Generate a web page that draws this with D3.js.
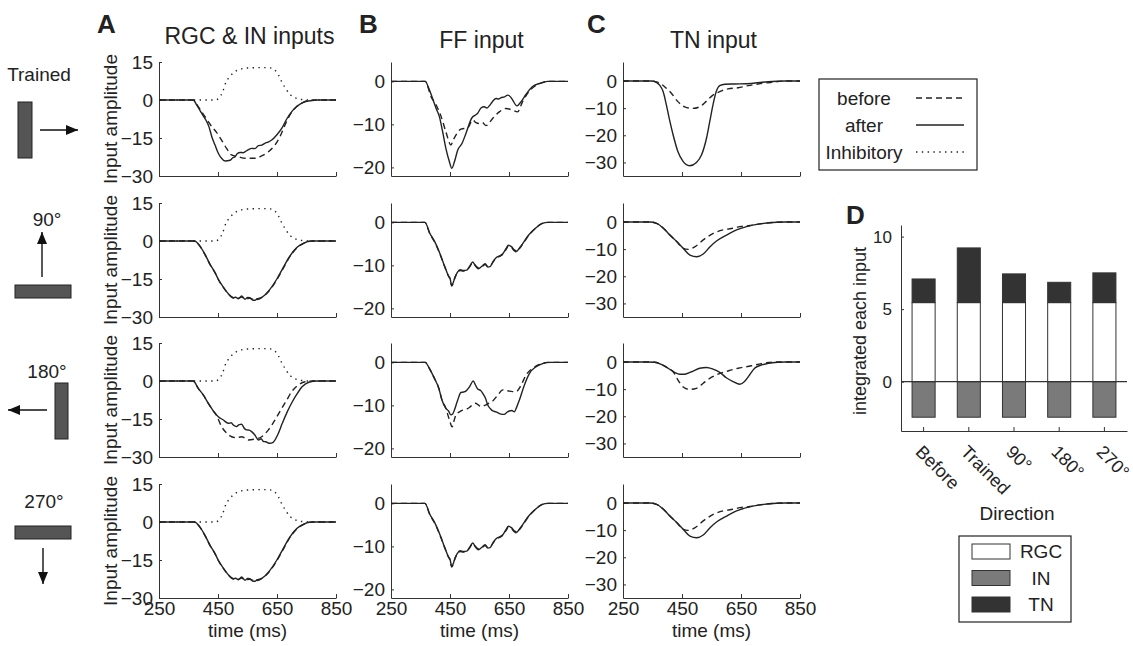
<!DOCTYPE html>
<html>
<head>
<meta charset="utf-8">
<script src="https://cdn.jsdelivr.net/npm/d3@7"></script>
<style>
  body { margin: 0; background: #fff; }
  svg text { font-family: "Liberation Sans", Arial, sans-serif; fill: #222; }
</style>
</head>
<body>
<svg id="fig" width="1133" height="646"></svg>
<script>
// ---- data ([time ms, amplitude]) ----
const timeTicks = [250, 450, 650, 850];

// inhibitory input (same in every direction)
const inhibitory = [[250,0],[440,0],[455,1],[465,3],[477,7],[490,9.2],[500,10.5],[513,11.6],[530,12.3],[545,12.6],[600,12.8],[626,12.7],[643,11.8],[655,9.9],[666,7.2],[679,4.6],[694,2.2],[711,0.9],[734,0.2],[760,0],[850,0]];

// RGC & IN inputs
const rgcTrainedBefore = [[250,0],[366,0],[383,-2.6],[406,-6.6],[429,-10.5],[445,-12.8],[462,-15.8],[479,-19.1],[496,-21.7],[519,-22.4],[542,-23],[575,-23],[598,-22.1],[621,-20.4],[643,-17.8],[660,-14.5],[677,-9.9],[694,-5.9],[717,-2.6],[739,-0.9],[762,-0.2],[784,0],[850,0]];
const rgcTrainedAfter = [[250,0],[366,0],[378,-2],[395,-5.3],[412,-8.6],[420,-10.8],[429,-14.5],[440,-17.8],[451,-21],[462,-23],[474,-24.1],[491,-23.8],[500,-22.8],[508,-22.4],[515,-21.2],[525,-20.7],[535,-20.8],[542,-20.4],[553,-19.6],[564,-19.1],[575,-19.2],[587,-18],[598,-17.8],[609,-17.1],[620,-16.6],[632,-15.8],[649,-13.8],[666,-11.2],[683,-7.5],[700,-4.6],[717,-2.6],[739,-0.9],[762,-0.3],[784,0],[850,0]];
const rgc90Before = [[250,0],[370,0],[389,-2.1],[406,-5.4],[423,-9.3],[440,-12.6],[451,-15.2],[468,-18.3],[485,-20.9],[502,-22.5],[519,-22.6],[530,-22.1],[542,-22.9],[558,-22.6],[575,-23.2],[592,-22.7],[609,-21.4],[626,-19.3],[649,-15.4],[671,-10.8],[694,-6.1],[717,-2.8],[739,-1],[768,0],[850,0]];
const rgc90After = [[250,0],[370,0],[389,-2],[406,-5.3],[423,-9.2],[440,-12.5],[451,-15.1],[468,-18.2],[485,-20.8],[502,-22.4],[510,-22.2],[519,-22.8],[530,-21.7],[542,-23],[550,-22.3],[558,-22.4],[567,-23.3],[575,-23.4],[583,-22.8],[592,-22.6],[609,-21.3],[626,-19.1],[649,-15.1],[671,-10.5],[694,-5.9],[717,-2.6],[739,-0.9],[768,0],[850,0]];
const rgc180Before = [[250,0],[366,0],[383,-2.9],[400,-5.5],[417,-8.8],[434,-11.8],[445,-13.6],[462,-18],[479,-20.5],[496,-22],[513,-22.4],[530,-22],[542,-22.6],[553,-23.3],[575,-22.9],[598,-22],[621,-19.3],[643,-15.4],[666,-10.8],[683,-7.5],[700,-4.2],[722,-1.6],[745,-0.3],[770,0],[850,0]];
const rgc180After = [[250,0],[366,0],[383,-2.9],[400,-5.5],[417,-8.8],[434,-11.8],[451,-14.1],[468,-15.4],[485,-16.7],[495,-16.5],[502,-17.4],[513,-18],[522,-17.2],[530,-17.1],[540,-18.8],[547,-19.3],[556,-19.4],[564,-20],[575,-21.3],[587,-23.3],[596,-22.8],[604,-23.9],[612,-24],[625,-24.6],[637,-24.2],[652,-21.3],[668,-16.7],[685,-12.1],[702,-8.2],[719,-4.9],[736,-2.2],[758,-0.5],[786,0],[850,0]];

// FF input
const ffTrainedBefore = [[250,0],[366,0],[386,-3.6],[403,-5.5],[420,-8.2],[436,-11.7],[453,-14.8],[462,-13.5],[470,-12.5],[487,-11.1],[510,-10.8],[527,-9],[538,-9.6],[549,-9.8],[560,-9.6],[572,-10.3],[595,-8.6],[617,-7.1],[640,-6.3],[662,-6.7],[679,-7.1],[696,-4.7],[713,-2.8],[736,-1.2],[759,-0.4],[781,0],[850,0]];
const ffTrainedAfter = [[250,0],[366,0],[378,-1.6],[391,-4],[403,-6.3],[414,-8.2],[425,-11.7],[436,-15.6],[448,-18.7],[456,-20.2],[465,-18.7],[476,-16],[491,-14.4],[504,-12.1],[525,-8.4],[535,-7.9],[544,-7.4],[555,-6.2],[566,-5.9],[575,-6.2],[583,-5.7],[595,-4.6],[606,-4],[615,-4.1],[623,-3.8],[635,-3.6],[646,-3.2],[655,-3.6],[662,-4.3],[677,-5.7],[691,-4.7],[708,-3],[730,-1.2],[753,-0.5],[781,0],[850,0]];
const ff90Before = [[250,0],[365,0],[382,-2.7],[399,-4.7],[416,-7.4],[433,-10.5],[444,-12.4],[450,-13.2],[456,-14.8],[462,-13.9],[467,-12.8],[475,-11.8],[484,-11.2],[495,-11.3],[507,-11],[517,-10.3],[527,-9.4],[537,-10.1],[546,-10.6],[558,-10.3],[569,-9.8],[578,-10.2],[586,-10.1],[597,-9.1],[608,-8.2],[618,-7.9],[629,-7.4],[640,-6.3],[648,-5.5],[659,-5.9],[668,-6.6],[676,-6.9],[684,-6.2],[693,-5.4],[716,-3.1],[738,-1.5],[761,-0.3],[783,0],[850,0]];
const ff90After = [[250,0],[365,0],[382,-2.6],[399,-4.6],[416,-7.3],[433,-10.4],[444,-12.3],[450,-13],[456,-14.7],[462,-13.8],[467,-12.7],[475,-11.6],[484,-11],[495,-11.2],[507,-11.1],[517,-10.2],[527,-9.2],[537,-10.2],[546,-10.8],[558,-10.2],[569,-9.6],[578,-10.4],[586,-10.3],[597,-9],[608,-8.1],[618,-7.8],[629,-7.3],[640,-6.1],[648,-5.3],[659,-5.7],[668,-6.4],[676,-6.7],[684,-6.1],[693,-5.3],[716,-3],[738,-1.5],[761,-0.3],[783,0],[850,0]];
const ff180Before = [[250,0],[366,0],[380,-1.4],[397,-3.7],[412,-6],[423,-8.8],[436,-10.7],[444,-12.5],[450,-13.8],[457,-15],[464,-13.5],[470,-12.2],[482,-11.5],[493,-11.1],[505,-10.9],[516,-10.5],[527,-9.8],[536,-9.5],[546,-9.9],[555,-10.3],[564,-10.1],[572,-9.9],[582,-9.5],[593,-9.1],[612,-7.6],[629,-6.4],[640,-6.5],[651,-6.7],[662,-6.8],[674,-6.8],[691,-5.3],[708,-2.9],[730,-1.4],[753,-0.5],[780,0],[850,0]];
const ff180After = [[250,0],[366,0],[380,-1.4],[397,-3.7],[412,-6],[423,-8.8],[436,-10.7],[445,-11.3],[453,-12.2],[459,-12],[465,-11.1],[476,-8.8],[487,-7],[496,-6.9],[504,-6.7],[516,-5.7],[529,-4.3],[536,-5.2],[544,-6.2],[553,-6.5],[561,-7.2],[570,-8.3],[578,-9.9],[587,-10.8],[595,-11.3],[606,-11.5],[617,-11.9],[627,-12.1],[634,-12.1],[643,-11.6],[651,-11.3],[660,-11.2],[668,-11.5],[676,-10.4],[685,-8.8],[702,-5.3],[719,-2.6],[742,-1],[764,-0.3],[790,0],[850,0]];

// TN input
const tnTrainedBefore = [[250,0],[300,0],[346,0],[369,-0.5],[391,-2.1],[414,-4.5],[436,-7.6],[459,-9.5],[487,-10.1],[510,-9.5],[533,-7.4],[555,-5.2],[578,-3.9],[606,-2.9],[640,-2.5],[674,-1.7],[708,-1.1],[753,-0.5],[798,0],[850,0]];
const tnTrainedAfter = [[250,0],[300,0],[346,0],[363,-0.5],[374,-1.5],[386,-3.9],[397,-8.8],[408,-14.4],[420,-19.9],[436,-26],[453,-29.5],[476,-31.2],[499,-30],[516,-27.3],[533,-21.1],[544,-15],[555,-8.8],[566,-3.9],[578,-1.7],[595,-1.2],[629,-1.1],[685,-0.9],[742,-0.25],[798,0],[850,0]];
const tn90Before = [[250,0],[300,0],[340,0],[364,-0.5],[387,-2.3],[409,-4.8],[432,-7.2],[454,-9.7],[471,-10.1],[494,-9.1],[522,-6.6],[556,-4.2],[590,-2.9],[624,-2.3],[646,-1.7],[680,-1.3],[714,-0.7],[771,-0.1],[800,0],[850,0]];
const tn90After = [[250,0],[300,0],[340,0],[364,-0.5],[387,-2.3],[409,-4.8],[432,-7.2],[454,-9.7],[477,-12.2],[500,-12.8],[522,-11.8],[545,-9.1],[568,-6.9],[601,-4.8],[635,-2.9],[669,-1.7],[714,-0.7],[771,-0.1],[800,0],[850,0]];
const tn180Before = [[250,0],[300,0],[330,0],[357,-0.1],[380,-0.9],[403,-2.3],[420,-3.6],[436,-6.6],[453,-9.1],[476,-10.1],[499,-9.7],[521,-7.9],[544,-6],[572,-4.5],[606,-3.3],[640,-2.3],[685,-1.4],[719,-0.6],[742,-0.2],[780,0],[850,0]];
const tn180After = [[250,0],[300,0],[330,0],[357,-0.1],[380,-0.9],[403,-2.3],[425,-3.8],[442,-4.5],[459,-4.5],[482,-3.6],[510,-2.3],[533,-2],[555,-2.6],[578,-3.8],[600,-5.8],[623,-7.2],[646,-8.2],[662,-7.2],[679,-4.8],[696,-2.3],[719,-1.1],[742,-0.5],[775,-0.1],[800,0],[850,0]];

// 270° looks identical to 90° in the figure
const rgc270Before = rgc90Before, rgc270After = rgc90After;
const ff270Before = ff90Before, ff270After = ff90After;
const tn270Before = tn90Before, tn270After = tn90After;

// panel D: integrated input per direction
const directions = ["Before", "Trained", "90°", "180°", "270°"];
const rgcTotals = [5.45, 5.45, 5.45, 5.45, 5.45];
const inTotals = [-2.45, -2.45, -2.45, -2.45, -2.45];
const tnTotals = [1.63, 3.77, 1.98, 1.40, 2.05];

// ---- layout ----
const svg = d3.select("#fig");
const ink = "#222";
const rowBottoms = [176, 317, 457, 598];
const plotH = 114;
const columns = [
    {key: "rgc", range: [159, 336], domain: [-30, 15], ticks: [15, 0, -15, -30], title: "RGC & IN inputs", titleY: 44, letter: "A", letterX: 97},
    {key: "ff",  range: [391, 568], domain: [-22, 4.5], ticks: [0, -10, -20], title: "FF input", titleY: 48, letter: "B", letterX: 359},
    {key: "tn",  range: [623, 800], domain: [-35, 7], ticks: [0, -10, -20, -30], title: "TN input", titleY: 48, letter: "C", letterX: 587}
];
const rows = [
    {rgc: [rgcTrainedBefore, rgcTrainedAfter], ff: [ffTrainedBefore, ffTrainedAfter], tn: [tnTrainedBefore, tnTrainedAfter]},
    {rgc: [rgc90Before, rgc90After], ff: [ff90Before, ff90After], tn: [tn90Before, tn90After]},
    {rgc: [rgc180Before, rgc180After], ff: [ff180Before, ff180After], tn: [tn180Before, tn180After]},
    {rgc: [rgc270Before, rgc270After], ff: [ff270Before, ff270After], tn: [tn270Before, tn270After]}
];

// arrow head marker
svg.append("defs").append("marker")
    .attr("id", "head")
    .attr("markerUnits", "userSpaceOnUse")
    .attr("markerWidth", 13).attr("markerHeight", 10)
    .attr("refX", 12).attr("refY", 5)
    .attr("orient", "auto")
    .append("path").attr("d", "M0,0 L12,5 L0,10 Z").attr("fill", "#111");

function styleAxis(g, size) {
    g.select(".domain").attr("stroke", "#333");
    g.selectAll(".tick line").attr("stroke", "#333");
    g.selectAll(".tick text").attr("font-size", size).attr("fill", ink)
        .style("font-family", "'Liberation Sans', Arial, sans-serif");
}

// ---- line panels ----
columns.forEach(function(col) {
    svg.append("text").attr("x", col.letterX).attr("y", 33)
        .attr("font-size", 26).attr("font-weight", "bold").text(col.letter);
    svg.append("text").attr("x", (col.range[0] + col.range[1]) / 2 + 2).attr("y", col.titleY)
        .attr("text-anchor", "middle").attr("font-size", 23).text(col.title);

    rows.forEach(function(row, i) {
        let bottom = rowBottoms[i];
        let x = d3.scaleLinear().domain([250, 850]).range(col.range);
        let y = d3.scaleLinear().domain(col.domain).range([bottom, bottom - plotH]);
        let line = d3.line().curve(d3.curveMonotoneX)
            .x(function(d) { return x(d[0]); })
            .y(function(d) { return y(d[1]); });

        let gx = svg.append("g").attr("transform", "translate(0," + bottom + ")")
            .call(d3.axisBottom(x).tickValues(timeTicks).tickSizeInner(-4).tickSizeOuter(0).tickPadding(4)
                .tickFormat(i === 3 ? d3.format("d") : ""));
        styleAxis(gx, 19);
        let gy = svg.append("g").attr("transform", "translate(" + col.range[0] + ",0)")
            .call(d3.axisLeft(y).tickValues(col.ticks).tickSizeInner(-3).tickSizeOuter(0).tickPadding(6)
                .tickFormat(d3.format("d")));
        styleAxis(gy, 19);

        if (col.key === "rgc") {
            svg.append("path").datum(inhibitory).attr("d", line)
                .attr("fill", "none").attr("stroke", ink).attr("stroke-width", 1.4)
                .attr("stroke-dasharray", "1.4,4.4");
            svg.append("text")
                .attr("transform", "translate(117," + (bottom - plotH / 2) + ") rotate(-90)")
                .attr("text-anchor", "middle").attr("font-size", 19).text("Input amplitude");
        }
        let pair = row[col.key];
        svg.append("path").datum(pair[0]).attr("d", line)
            .attr("fill", "none").attr("stroke", ink).attr("stroke-width", 1.4)
            .attr("stroke-dasharray", "6,4");
        svg.append("path").datum(pair[1]).attr("d", line)
            .attr("fill", "none").attr("stroke", ink).attr("stroke-width", 1.4);

        if (i === 3) {
            svg.append("text").attr("x", (col.range[0] + col.range[1]) / 2).attr("y", 637)
                .attr("text-anchor", "middle").attr("font-size", 19).text("time (ms)");
        }
    });
});

// ---- stimulus glyphs on the left ----
const glyphs = [
    {text: "Trained", tx: 39, ty: 81, rect: [18, 102, 14, 56], arrow: [40, 130, 78, 130]},
    {text: "90°", tx: 47, ty: 226, rect: [15, 285, 56, 13], arrow: [42, 277, 42, 232]},
    {text: "180°", tx: 47, ty: 378, rect: [55, 383, 13, 56], arrow: [47, 410, 8, 410]},
    {text: "270°", tx: 44, ty: 508, rect: [15, 526, 56, 13], arrow: [43, 548, 43, 584]}
];
glyphs.forEach(function(gl) {
    svg.append("text").attr("x", gl.tx).attr("y", gl.ty).attr("text-anchor", "middle")
        .attr("font-size", 19).text(gl.text);
    svg.append("rect").attr("x", gl.rect[0]).attr("y", gl.rect[1])
        .attr("width", gl.rect[2]).attr("height", gl.rect[3])
        .attr("fill", "#555").attr("stroke", "#222").attr("stroke-width", 1);
    svg.append("line").attr("x1", gl.arrow[0]).attr("y1", gl.arrow[1])
        .attr("x2", gl.arrow[2]).attr("y2", gl.arrow[3])
        .attr("stroke", "#111").attr("stroke-width", 1.4).attr("marker-end", "url(#head)");
});

// ---- line legend ----
const lineKeys = [
    {label: "before", dash: "6,4"},
    {label: "after", dash: null},
    {label: "Inhibitory", dash: "1.4,4.4"}
];
svg.append("rect").attr("x", 819).attr("y", 79).attr("width", 158).attr("height", 91)
    .attr("fill", "#fff").attr("stroke", ink).attr("stroke-width", 1.2);
lineKeys.forEach(function(k, i) {
    let cy = 98 + i * 27;
    svg.append("text").attr("x", 864).attr("y", cy + 7).attr("text-anchor", "middle")
        .attr("font-size", 19).text(k.label);
    svg.append("line").attr("x1", 916).attr("x2", 964).attr("y1", cy).attr("y2", cy)
        .attr("stroke", ink).attr("stroke-width", 1.4)
        .attr("stroke-dasharray", k.dash);
});

// ---- panel D: stacked bars ----
const xBand = d3.scaleBand().domain(directions).range([901, 1127])
    .paddingInner(0.49).paddingOuter(0.245);
const yBar = d3.scaleLinear().domain([-3.4, 10.8]).range([431, 225]);

svg.append("text").attr("x", 846).attr("y", 224)
    .attr("font-size", 26).attr("font-weight", "bold").text("D");

const barData = directions.map(function(d, i) {
    return [
        {dir: d, y0: 0, y1: rgcTotals[i], fill: "#fff"},
        {dir: d, y0: inTotals[i], y1: 0, fill: "#7a7a7a"},
        {dir: d, y0: rgcTotals[i], y1: rgcTotals[i] + tnTotals[i], fill: "#333"}
    ];
}).flat();

svg.append("g").selectAll("rect").data(barData).join("rect")
    .attr("x", function(d) { return xBand(d.dir); })
    .attr("width", xBand.bandwidth())
    .attr("y", function(d) { return yBar(d.y1); })
    .attr("height", function(d) { return yBar(d.y0) - yBar(d.y1); })
    .attr("fill", function(d) { return d.fill; })
    .attr("stroke", "#333").attr("stroke-width", 1);

// zero line
svg.append("line").attr("x1", 901).attr("x2", 1127)
    .attr("y1", yBar(0)).attr("y2", yBar(0)).attr("stroke", "#333").attr("stroke-width", 1.2);

let dy = svg.append("g").attr("transform", "translate(901,0)")
    .call(d3.axisLeft(yBar).tickValues([0, 5, 10]).tickSizeInner(-3).tickSizeOuter(0).tickPadding(9));
styleAxis(dy, 17);

let dx = svg.append("g").attr("transform", "translate(0,431)")
    .call(d3.axisBottom(xBand).tickSizeInner(-4).tickSizeOuter(0).tickFormat(""));
styleAxis(dx, 18);

svg.append("g").selectAll("text").data(directions).join("text")
    .attr("transform", function(d) {
        return "translate(" + (xBand(d) + xBand.bandwidth() / 2 - 9) + ",453) rotate(45)";
    })
    .attr("font-size", 18).text(function(d) { return d; });

svg.append("text")
    .attr("transform", "translate(866,331) rotate(-90)")
    .attr("text-anchor", "middle").attr("font-size", 18).text("integrated each input");
svg.append("text").attr("x", 1017).attr("y", 520).attr("text-anchor", "middle")
    .attr("font-size", 19).text("Direction");

// bar legend
const barKeys = [
    {label: "RGC", fill: "#fff"},
    {label: "IN", fill: "#7a7a7a"},
    {label: "TN", fill: "#333"}
];
svg.append("rect").attr("x", 959).attr("y", 536).attr("width", 112).attr("height", 86)
    .attr("fill", "#fff").attr("stroke", ink).attr("stroke-width", 1.2);
barKeys.forEach(function(k, i) {
    let top = 544 + i * 26.5;
    svg.append("rect").attr("x", 972).attr("y", top).attr("width", 38).attr("height", 15)
        .attr("fill", k.fill).attr("stroke", "#333");
    svg.append("text").attr("x", 1041).attr("y", top + 14).attr("text-anchor", "middle")
        .attr("font-size", 19).text(k.label);
});
</script>
</body>
</html>
